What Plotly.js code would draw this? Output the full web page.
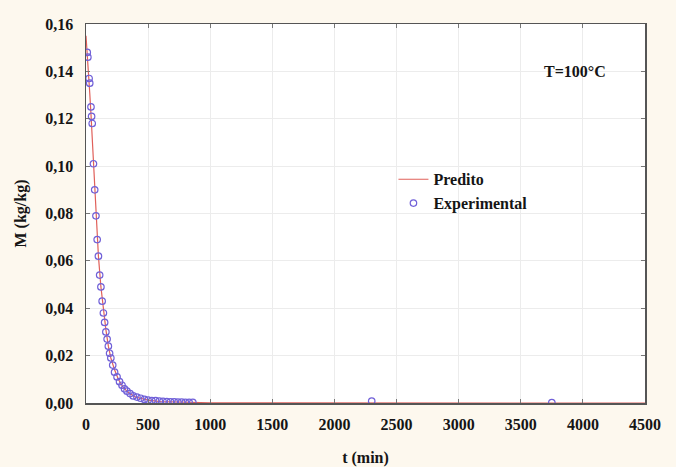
<!DOCTYPE html>
<html>
<head>
<meta charset="utf-8">
<script src="https://cdn.plot.ly/plotly-3.0.1.min.js"></script>
<style>body{margin:0;padding:0;background:#fdf8ee;} #chart{width:676px;height:467px;}</style>
</head>
<body>
<div id="chart"></div>
<script>
// Experimental data (t in min, M in kg/kg)
const expT = [10,15,25,30,40,45,50,60,70,80,90,100,110,120,130,140,150,160,170,180,190,200,215,230,250,270,290,310,330,355,380,410,440,470,500,530,560,590,620,650,680,710,740,770,800,830,860,2300,3750];
const expM = [0.148,0.146,0.137,0.135,0.125,0.121,0.118,0.101,0.090,0.079,0.069,0.062,0.054,0.049,0.043,0.038,0.034,0.030,0.027,0.024,0.021,0.019,0.016,0.013,0.011,0.009,0.0075,0.006,0.005,0.004,0.003,0.0025,0.002,0.0015,0.0012,0.001,0.001,0.0008,0.0007,0.0006,0.0005,0.0005,0.0004,0.0004,0.0003,0.0003,0.0003,0.0008,0.0002];
// Predicted curve
const predT = [0,10,20,30,40,50,60,70,80,90,100,120,140,160,180,200,230,260,300,350,400,500,600,800,1000,1500,2000,3000,4000,4500];
const predM = [0.155,0.148,0.140,0.131,0.122,0.112,0.102,0.091,0.080,0.070,0.062,0.049,0.039,0.031,0.024,0.019,0.014,0.010,0.0065,0.0040,0.0025,0.0012,0.0006,0.0002,0.0001,0.00002,0.000005,0,0,0];
// Axis ticks
const xTicks = [0,500,1000,1500,2000,2500,3000,3500,4000,4500];
const yTicks = [0,0.02,0.04,0.06,0.08,0.10,0.12,0.14,0.16];
const yTickText = ['0,00','0,02','0,04','0,06','0,08','0,10','0,12','0,14','0,16'];

const fam = '"Liberation Serif", "Times New Roman", serif';
const boldFont = {family: fam, size: 16, color: '#151515', weight: 'bold'};

const traces = [
  {x: predT, y: predM, mode: 'lines', name: 'Predito',
   line: {color: '#e0605a', width: 1.2}},
  {x: expT, y: expM, mode: 'markers', name: 'Experimental',
   marker: {symbol: 'circle-open', size: 6.5, color: '#7060d8', line: {width: 1.2}}}
];

const axisCommon = {
  showline: true, mirror: 'ticks', linecolor: '#555', linewidth: 1.5,
  ticks: 'inside', ticklen: 4, tickcolor: '#777',
  showgrid: true, gridcolor: '#ececec', gridwidth: 1,
  zeroline: false,
  tickfont: boldFont
};

const layout = {
  width: 676, height: 467,
  paper_bgcolor: '#fdf8ee', plot_bgcolor: '#ffffff',
  margin: {l: 86, r: 31, t: 24, b: 64},
  font: {family: fam, size: 15, color: '#151515'},
  showlegend: true,
  legend: {x: 0.55, y: 0.635, xanchor: 'left', yanchor: 'top', bgcolor: 'rgba(0,0,0,0)',
    font: {family: fam, size: 16, color: '#151515', weight: 'bold'}, tracegroupgap: 0, itemwidth: 30},
  xaxis: Object.assign({}, axisCommon, {
    range: [0, 4500], tickvals: xTicks, ticktext: xTicks.map(String),
    ticklabelstandoff: 6,
    title: {text: 't (min)', standoff: 22, font: boldFont}
  }),
  yaxis: Object.assign({}, axisCommon, {
    range: [0, 0.16], tickvals: yTicks, ticktext: yTickText,
    ticklabelstandoff: 8,
    title: {text: 'M (kg/kg)', standoff: 14, font: boldFont}
  }),
  annotations: [{
    xref: 'paper', yref: 'paper', x: 0.875, y: 0.875, xanchor: 'center', yanchor: 'middle',
    text: '<b>T=100°C</b>', showarrow: false,
    font: {family: fam, size: 16, color: '#151515'}
  }]
};

Plotly.newPlot('chart', traces, layout, {displayModeBar: false, staticPlot: true});
</script>
</body>
</html>
